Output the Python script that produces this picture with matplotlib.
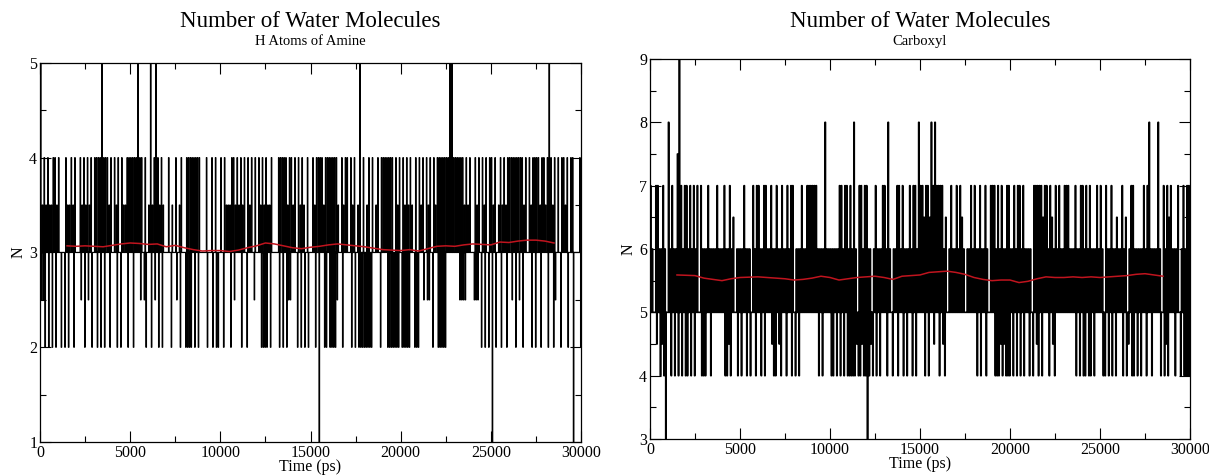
import matplotlib
matplotlib.use('Agg')
import numpy as np
import matplotlib.pyplot as plt
from matplotlib.ticker import MultipleLocator

# black trace per 1000 ps chunk (10 bins of 100 ps each)
# every char = level reached inside that bin, in half units, base-36 ('6' = 3, '8' = 4, 'a' = 5, 'c' = 6 ...)
amine_base = 3.0
amine_up = ["a787877887", "8666877878", "6687878786", "8888a88878", "6878687788",
            "8888a88686", "7a78a87876", "6867686786", "6888888886", "6686686866",
            "8687778878", "7878687868", "6878787786", "6688888788", "7868787686",
            "6878888788", "8888876878", "8687867a68", "6786867868", "8888886878",
            "6878787686", "8786878687", "8888888aa8", "8888878786", "6878687868",
            "8786787878", "8888888878", "6878888788", "78a8786868", "8786886668"]
amine_down = ["5546464646", "6464646646", "6656465646", "6464646646", "6646466646",
              "6466656546", "6465646466", "6646656466", "4444646466", "6646646446",
              "6466646566", "6466466656", "6644446466", "6646464556", "6646464646",
              "6646266446", "4444566466", "6646464444", "4444666646", "6644444446",
              "4444466444", "6656556466", "4444466666", "6655556666", "5556464646",
              "2646646646", "6564656466", "6646466466", "6466456646", "6646626664"]

carboxyl_base = 5.0
carboxyl_up = ["ecaeecceca", "gceccfiece", "ecececeaec", "cceccccecc", "ceccecdacc",
               "ccecccaece", "ecceeccecc", "ecceccecee", "acccecceee", "eeeccccgcc",
               "ccccceecee", "cecgcaeece", "eccaceccce", "ecgcacceec", "eccceceecg",
               "eedeedgege", "eeecdacecc", "ecedcaccec", "ecceccecae", "eecececcee",
               "cceceececc", "ccaeeeeede", "ecedcececc", "eeecccecce", "ecececccec",
               "ecaecceccd", "ccecdaceec", "ccccecegcc", "ccgcaecede", "ccceacecee"]
carboxyl_down = ["aaa9a8986a", "a8a8a8a8a8", "8a8a8aaa88", "8aa8aaaaaa", "a8898aaa8a",
                 "8aa8a8aa8a", "a8a8aaa988", "a98aa8aa8a", "8a8aaaaaaa", "aaa8a8aaaa",
                 "88a8a8a8a8", "8888988988", "6898a8a8aa", "a8aa8aa8aa", "8a8aa8a8aa",
                 "aa8a8aa9aa", "8a98aaaaaa", "aaaaaaaaaa", "a8a8aa8aaa", "a888989888",
                 "a8a8a8a8aa", "8a8a98a8aa", "a8a98aaaaa", "aaaaaa8a8a", "88a88a8aaa",
                 "a88a8a8a8a", "aa8a89a88a", "8a8aa8aa8a", "aaa8a898aa", "a8aa8a8888"]

# running average (red)
avg_time = [1500, 2000, 2500, 3000, 3500, 4000, 4500, 5000, 5500, 6000, 6500, 7000,
            7500, 8000, 8500, 9000, 9500, 10000, 10500, 11000, 11500, 12000, 12500,
            13000, 13500, 14000, 14500, 15000, 15500, 16000, 16500, 17000, 17500,
            18000, 18500, 19000, 19500, 20000, 20500, 21000, 21500, 22000, 22500,
            23000, 23500, 24000, 24500, 25000, 25500, 26000, 26500, 27000, 27500,
            28000, 28500]
amine_avg = [3.07, 3.065, 3.07, 3.065, 3.06, 3.075, 3.09, 3.10, 3.095, 3.085, 3.09, 3.06,
             3.075, 3.05, 3.03, 3.015, 3.02, 3.02, 3.01, 3.025, 3.05, 3.07, 3.10,
             3.09, 3.07, 3.05, 3.04, 3.055, 3.065, 3.08, 3.09, 3.08, 3.07,
             3.06, 3.045, 3.03, 3.025, 3.02, 3.03, 3.015, 3.04, 3.065, 3.07,
             3.065, 3.08, 3.09, 3.085, 3.08, 3.11, 3.105, 3.12, 3.13, 3.13,
             3.12, 3.10]
carboxyl_avg = [5.59, 5.585, 5.58, 5.54, 5.52, 5.50, 5.53, 5.55, 5.555, 5.56, 5.55, 5.54,
                5.53, 5.51, 5.52, 5.54, 5.57, 5.55, 5.51, 5.53, 5.55, 5.56, 5.57,
                5.55, 5.52, 5.57, 5.58, 5.59, 5.63, 5.64, 5.65, 5.63, 5.60,
                5.55, 5.52, 5.50, 5.51, 5.51, 5.47, 5.49, 5.53, 5.56, 5.55,
                5.55, 5.56, 5.55, 5.56, 5.55, 5.56, 5.57, 5.58, 5.60, 5.61,
                5.59, 5.57]


def trace(up, down, base):
    t, v = [], []
    for k, (cu, cd) in enumerate(zip(up, down)):
        w = 1000.0 / len(cu)
        for i, (a, b) in enumerate(zip(cu, cd)):
            t0 = k * 1000 + i * w
            t += [t0, t0 + w / 4, t0 + w / 2, t0 + 3 * w / 4]
            v += [base, int(a, 36) / 2, base, int(b, 36) / 2]
    t.append(30000)
    v.append(base)
    return t, v


plt.rcParams['font.family'] = ['Liberation Serif', 'DejaVu Serif']

fig = plt.figure(figsize=(12.09, 4.75), dpi=100)
ax1 = fig.add_axes([0.0331, 0.0695, 0.4475, 0.798])
ax2 = fig.add_axes([0.5376, 0.0758, 0.4467, 0.800])

panels = [(ax1, amine_up, amine_down, amine_base, amine_avg, (1, 5), 'H Atoms of Amine', 0.9),
          (ax2, carboxyl_up, carboxyl_down, carboxyl_base, carboxyl_avg, (3, 9), 'Carboxyl', 1.2)]

for ax, up, down, base, avg, ylim, sub, lw in panels:
    t, v = trace(up, down, base)
    ax.step(t, v, where='post', color='black', lw=lw)
    ax.plot(avg_time, avg, color='#c0141e', lw=1.1)
    ax.set_xlim(0, 30000)
    ax.set_ylim(*ylim)
    ax.xaxis.set_major_locator(MultipleLocator(5000))
    ax.xaxis.set_minor_locator(MultipleLocator(2500))
    ax.yaxis.set_major_locator(MultipleLocator(1))
    ax.yaxis.set_minor_locator(MultipleLocator(0.5))
    ax.tick_params(which='both', direction='in', top=True, right=True, labelsize=11.5, width=0.8)
    ax.tick_params(which='major', length=8, pad=2)
    ax.tick_params(which='minor', length=4)
    for s in ax.spines.values():
        s.set_linewidth(0.9)
    ax.set_xlabel('Time (ps)', fontsize=11.5, labelpad=-1)
    ax.set_ylabel('N', fontsize=11.5, labelpad=2)
    pos = ax.get_position()
    cx = (pos.x0 + pos.x1) / 2
    fig.text(cx, 0.955, 'Number of Water Molecules', ha='center', va='center', fontsize=16.5)
    fig.text(cx, 0.912, sub, ha='center', va='center', fontsize=10.5)

fig.savefig('out.png', dpi=100)
